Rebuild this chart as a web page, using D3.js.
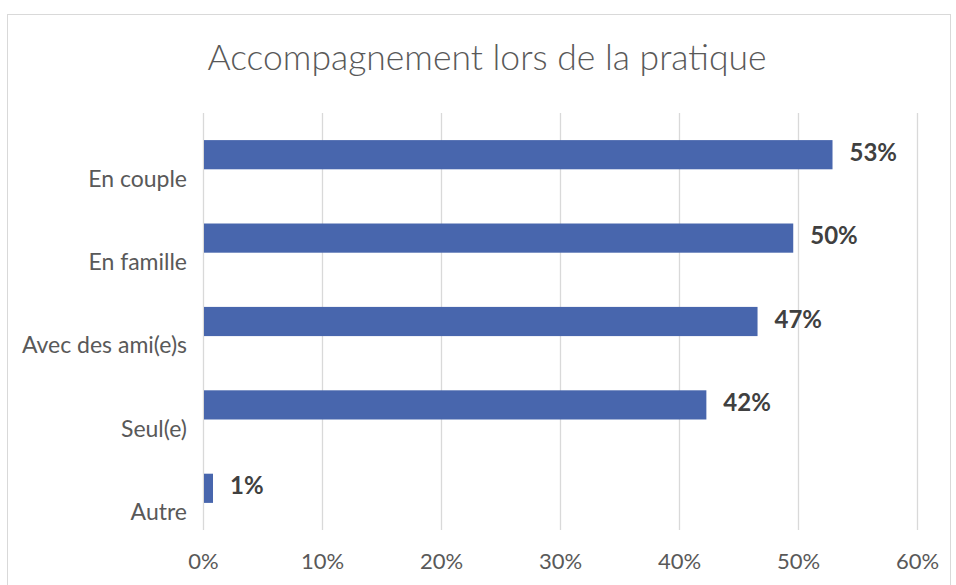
<!DOCTYPE html>
<html><head><meta charset="utf-8">
<script src="https://cdn.jsdelivr.net/npm/d3@7"></script>
<style>body{margin:0;background:#fff;}svg{display:block;}</style>
</head><body>
<svg id="c" width="956" height="585"></svg>
<script>
const categories = ["En couple", "En famille", "Avec des ami(e)s", "Seul(e)", "Autre"];
const values = [0.529, 0.496, 0.466, 0.423, 0.0084];
const tickValues = [0, 0.1, 0.2, 0.3, 0.4, 0.5, 0.6];
const title = "Accompagnement lors de la pratique";

const svg = d3.select("#c");
const font = "Lato, 'Noto Sans', sans-serif";
svg.append("rect").attr("x", 7.5).attr("y", 14.5).attr("width", 943).attr("height", 600)
  .attr("fill", "#fff").attr("stroke", "#d9d9d9").attr("stroke-width", 1);

const m = {left: 203, right: 917, top: 113, bottom: 530};
const x = d3.scaleLinear().domain([0, 0.6]).range([m.left, m.right]);
const y = d3.scaleBand().domain(categories).range([m.top, m.bottom]).paddingInner(0.65).paddingOuter(0.325);

svg.append("text").attr("x", 487).attr("y", 61).attr("text-anchor", "middle")
  .attr("dominant-baseline", "middle").attr("font-family", font).attr("font-weight", 300)
  .attr("font-size", 35.5).attr("fill", "#595959").text(title);

const grid = svg.append("g").attr("transform", `translate(0,${m.bottom})`)
  .call(d3.axisBottom(x).tickValues(tickValues).tickSize(-(m.bottom - m.top)).tickFormat(d3.format(".0%")));
grid.select(".domain").remove();
grid.selectAll(".tick line").attr("stroke", "#d9d9d9").attr("stroke-width", 1.3);
grid.selectAll(".tick text").attr("font-family", font).attr("font-size", 22).attr("fill", "#595959")
  .attr("y", 31).attr("dy", "0.35em");

svg.append("g").selectAll("rect").data(categories).join("rect")
  .attr("x", x(0) + 1).attr("y", d => y(d))
  .attr("width", (d, i) => x(values[i]) - x(0) - 1).attr("height", y.bandwidth())
  .attr("fill", "#4866ad");

svg.append("g").selectAll("text").data(categories).join("text")
  .attr("x", (d, i) => x(values[i]) + 17).attr("y", d => y(d) + y.bandwidth() / 2)
  .attr("dominant-baseline", "middle").attr("font-family", font).attr("font-weight", "bold")
  .attr("font-size", 24).attr("fill", "#404040")
  .text((d, i) => d3.format(".0%")(values[i]));

svg.append("g").selectAll("text").data(categories).join("text")
  .attr("x", 187).attr("y", d => y(d) + y.bandwidth() / 2 + 26)
  .attr("text-anchor", "end").attr("dominant-baseline", "middle")
  .attr("font-family", font).attr("font-size", 23).attr("fill", "#595959").text(d => d);
</script>
</body></html>
